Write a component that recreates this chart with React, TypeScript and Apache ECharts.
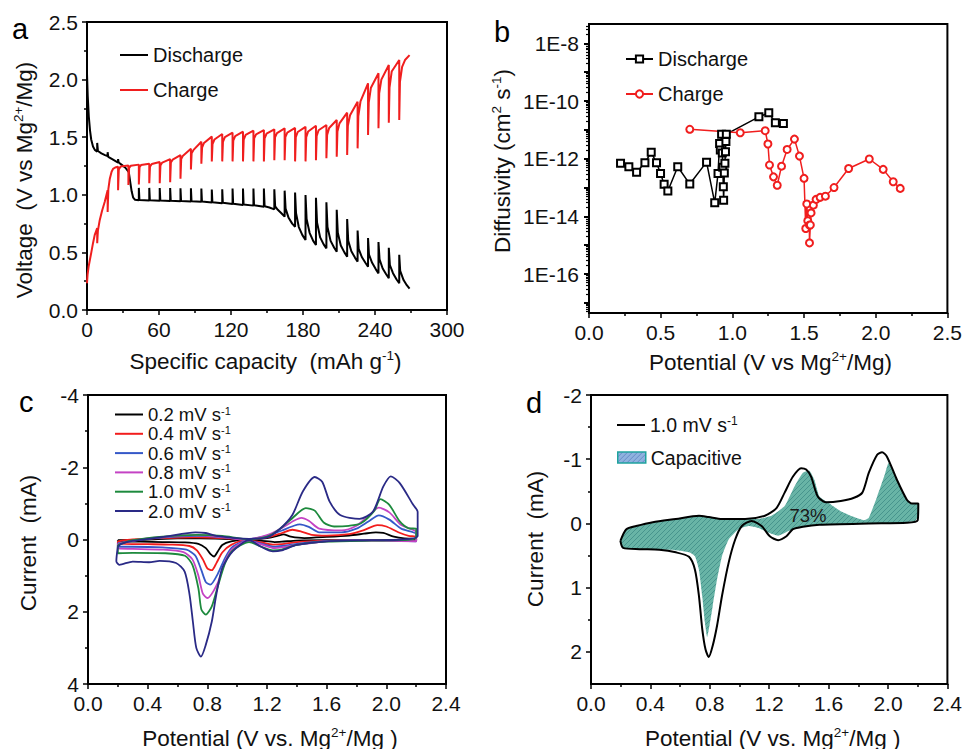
import React, { useEffect, useRef } from 'react';
import * as echarts from 'echarts';

const FONT = "'Liberation Sans', Arial, Helvetica, sans-serif";
const INK = '#111111';

// ---------- Panel a: GITT profiles [specific capacity (mAh g-1), voltage (V)] ----------
const dischargeProfile: number[][] = [
  [0, 2.05], [0.6, 1.86], [1.5, 1.68], [2.5, 1.56], [3.5, 1.48], [5, 1.42], [6.5, 1.39], [8.5, 1.375],
  [8.5, 1.45], [9.1, 1.38], [12, 1.36], [15, 1.345], [17.2, 1.335],
  [17.2, 1.37], [17.7, 1.33], [21, 1.31], [25.9, 1.28],
  [25.9, 1.31], [26.4, 1.28], [29, 1.26], [32, 1.235], [34.5, 1.2],
  [34.5, 1.22], [35.2, 1.17], [36.2, 1.1], [37.2, 1.03], [38.5, 0.975], [40, 0.957], [43.2, 0.952],
  [43.2, 1.06], [43.7, 0.955], [51.9, 0.95],
  [51.9, 1.06], [52.4, 0.952], [60.6, 0.948],
  [60.6, 1.058], [61.1, 0.95], [69.3, 0.946],
  [69.3, 1.058], [69.8, 0.948], [77.9, 0.944],
  [77.9, 1.056], [78.4, 0.946], [86.6, 0.942],
  [86.6, 1.056], [87.1, 0.944], [95.3, 0.94],
  [95.3, 1.054], [95.8, 0.942], [104.0, 0.933],
  [104.0, 1.045], [104.5, 0.936], [112.7, 0.926],
  [112.7, 1.048], [113.2, 0.93], [121.3, 0.92],
  [121.3, 1.055], [121.8, 0.923], [130.0, 0.911],
  [130.0, 1.055], [130.5, 0.915], [138.7, 0.906],
  [138.7, 1.055], [139.2, 0.91], [147.4, 0.897],
  [147.4, 1.055], [148, 0.9], [152, 0.89], [156.1, 0.874],
  [156.1, 1.048], [156.8, 0.9], [159, 0.87], [162, 0.84], [164.7, 0.81],
  [164.7, 1.036], [165.5, 0.88], [168, 0.8], [171, 0.75], [173.4, 0.723],
  [173.4, 1.019], [174.2, 0.84], [176.5, 0.72], [179.5, 0.65], [182.1, 0.608],
  [182.1, 0.998], [183, 0.79], [185.5, 0.67], [188.5, 0.6], [190.8, 0.564],
  [190.8, 0.975], [191.7, 0.76], [194.3, 0.63], [197.2, 0.57], [199.5, 0.535],
  [199.5, 0.935], [200.4, 0.72], [203, 0.6], [206, 0.54], [208.1, 0.506],
  [208.1, 0.87], [209, 0.67], [211.5, 0.56], [214.5, 0.5], [216.8, 0.463],
  [216.8, 0.79], [217.7, 0.6], [220.3, 0.51], [223.3, 0.455], [225.5, 0.42],
  [225.5, 0.69], [226.4, 0.53], [229, 0.46], [232, 0.41], [234.2, 0.376],
  [234.2, 0.625], [235, 0.48], [237.6, 0.41], [240.6, 0.355], [242.9, 0.318],
  [242.9, 0.59], [243.8, 0.44], [246.4, 0.36], [249.3, 0.31], [251.5, 0.275],
  [251.5, 0.54], [252.4, 0.39], [255, 0.32], [258, 0.265], [260.2, 0.232],
  [260.2, 0.48], [261, 0.34], [263.8, 0.26], [266.5, 0.215], [268.8, 0.185],
];

const chargeProfile: number[][] = [
  [0, 0.232], [0.5, 0.31], [1.4, 0.38], [2.5, 0.44], [3.6, 0.5], [5, 0.58], [6.4, 0.65], [8.5, 0.71],
  [8.5, 0.58], [9.1, 0.69], [10.6, 0.78], [12.5, 0.86], [14.8, 0.94], [17.2, 1.04],
  [17.2, 0.85], [17.8, 1.05], [19, 1.14], [20.5, 1.2], [21.7, 1.225], [23.5, 1.237], [25.9, 1.244],
  [25.9, 1.04], [26.5, 1.22], [28, 1.245], [31, 1.25], [34.5, 1.255],
  [34.5, 1.085], [35.1, 1.235], [36.5, 1.252], [43.2, 1.262],
  [43.2, 1.09], [43.8, 1.24], [45, 1.258], [51.9, 1.27],
  [51.9, 1.1], [52.5, 1.245], [54, 1.267], [60.6, 1.285],
  [60.6, 1.1], [61.2, 1.255], [62.7, 1.28], [69.3, 1.31],
  [69.3, 1.11], [69.9, 1.28], [71.4, 1.305], [77.9, 1.345],
  [77.9, 1.14], [78.5, 1.31], [80, 1.34], [86.6, 1.4],
  [86.6, 1.22], [87.2, 1.36], [88.8, 1.39], [95.3, 1.46],
  [95.3, 1.27], [95.9, 1.41], [97.5, 1.45], [104.0, 1.505],
  [104.0, 1.29], [104.6, 1.44], [106.2, 1.48], [112.7, 1.528],
  [112.7, 1.29], [113.3, 1.46], [114.9, 1.5], [121.3, 1.539],
  [121.3, 1.29], [121.9, 1.47], [123.5, 1.51], [130.0, 1.548],
  [130.0, 1.29], [130.6, 1.48], [132.2, 1.52], [138.7, 1.557],
  [138.7, 1.29], [139.3, 1.49], [140.9, 1.525], [147.4, 1.562],
  [147.4, 1.29], [148, 1.49], [149.6, 1.53], [156.1, 1.568],
  [156.1, 1.3], [156.7, 1.5], [158.3, 1.535], [164.7, 1.577],
  [164.7, 1.3], [165.3, 1.5], [166.9, 1.54], [173.4, 1.58],
  [173.4, 1.29], [174, 1.5], [175.6, 1.545], [182.1, 1.59],
  [182.1, 1.29], [182.7, 1.5], [184.3, 1.55], [190.8, 1.6],
  [190.8, 1.3], [191.4, 1.51], [193, 1.56], [199.5, 1.606],
  [199.5, 1.317], [200.1, 1.52], [201.8, 1.58], [208.1, 1.649],
  [208.1, 1.331], [208.7, 1.55], [210.4, 1.62], [216.8, 1.713],
  [216.8, 1.345], [217.4, 1.6], [219.2, 1.69], [225.5, 1.808],
  [225.5, 1.403], [226.1, 1.68], [227.9, 1.81], [234.2, 1.968],
  [234.2, 1.519], [234.8, 1.8], [236.6, 1.93], [242.9, 2.055],
  [242.9, 1.577], [243.5, 1.88], [245.3, 2.0], [251.5, 2.127],
  [251.5, 1.626], [252.1, 1.93], [253.9, 2.07], [260.2, 2.17],
  [260.2, 1.649], [260.8, 1.98], [262.6, 2.11], [265, 2.17], [268.8, 2.213],
];

// ---------- Panel b: diffusivity, stored as log10(D / cm2 s-1) ----------
const dischargePotential = [0.22, 0.278, 0.332, 0.39, 0.434, 0.471, 0.499, 0.524, 0.55, 0.619, 0.703, 0.82, 0.877, 0.9, 0.911, 0.916, 0.925, 0.93, 0.933, 0.937, 0.939, 0.944, 0.948, 0.952, 0.955, 0.958, 1.185, 1.254, 1.3, 1.356];
const dischargeLogD = [-12.16, -12.28, -12.47, -12.14, -11.78, -12.14, -12.51, -12.89, -13.12, -12.28, -12.88, -12.12, -13.53, -12.51, -11.47, -11.7, -11.15, -11.8, -12.3, -12.97, -13.44, -12.5, -12.16, -11.76, -11.4, -11.15, -10.55, -10.41, -10.75, -10.78];
const chargePotential = [0.703, 1.055, 1.229, 1.248, 1.259, 1.287, 1.313, 1.343, 1.382, 1.433, 1.468, 1.5, 1.512, 1.519, 1.526, 1.537, 1.538, 1.544, 1.549, 1.565, 1.584, 1.612, 1.649, 1.709, 1.811, 1.955, 2.052, 2.122, 2.171];
const chargeLogD = [-10.98, -11.1, -11.03, -11.49, -12.22, -12.63, -12.92, -12.26, -11.68, -11.32, -11.91, -12.68, -14.42, -13.57, -14.15, -14.3, -14.92, -14.3, -13.88, -13.61, -13.41, -13.34, -13.3, -13.0, -12.34, -12.01, -12.37, -12.8, -13.03];
const diffusivityLabelExps = [-16, -14, -12, -10, -8];
const diffusivityDecades = [-17, -16, -15, -14, -13, -12, -11, -10, -9, -8];

// ---------- Panel c: CV at several scan rates [potential (V), current (mA)] ----------
const scanRates = ['0.2 mV s-1', '0.4 mV s-1', '0.6 mV s-1', '0.8 mV s-1', '1.0 mV s-1', '2.0 mV s-1'];
const scanColors = ['#000000', '#f21d1d', '#3558c8', '#c443c4', '#1d8a3d', '#2a2a86'];
const cv02: number[][] = [
  [0.2, 0.02], [0.4, 0.0], [0.6, -0.03], [0.75, -0.03], [0.9, -0.02], [1.05, 0.0], [1.2, -0.04], [1.27, -0.1], [1.31, -0.14], [1.36, -0.08], [1.45, -0.04], [1.6, -0.07], [1.75, -0.11], [1.85, -0.16], [1.93, -0.2], [1.98, -0.18], [2.05, -0.08], [2.12, -0.03], [2.2, -0.02],
  [2.2, 0.02], [2.0, 0.02], [1.8, 0.02], [1.6, 0.02], [1.4, 0.03], [1.3, 0.06], [1.25, 0.07], [1.15, 0.03], [1.05, 0.02], [0.96, 0.05], [0.9, 0.15], [0.87, 0.33], [0.845, 0.47], [0.82, 0.4], [0.79, 0.24], [0.74, 0.12], [0.65, 0.08], [0.5, 0.07], [0.35, 0.06], [0.2, 0.05], [0.2, 0.02],
];
const cv04: number[][] = [
  [0.2, 0.05], [0.3, 0.0], [0.5, -0.04], [0.72, -0.06], [0.9, -0.04], [1.06, 0.0], [1.2, -0.06], [1.3, -0.18], [1.37, -0.27], [1.43, -0.22], [1.5, -0.13], [1.6, -0.11], [1.75, -0.15], [1.85, -0.26], [1.94, -0.4], [2.0, -0.36], [2.08, -0.2], [2.15, -0.1], [2.2, -0.08],
  [2.2, 0.03], [2.0, 0.02], [1.8, 0.02], [1.6, 0.03], [1.4, 0.07], [1.3, 0.13], [1.24, 0.14], [1.15, 0.07], [1.06, 0.02], [0.96, 0.15], [0.9, 0.36], [0.86, 0.66], [0.83, 0.85], [0.8, 0.8], [0.77, 0.55], [0.73, 0.3], [0.68, 0.18], [0.55, 0.14], [0.4, 0.13], [0.2, 0.12], [0.2, 0.05],
];
const cv06: number[][] = [
  [0.2, 0.1], [0.4, -0.02], [0.6, -0.08], [0.73, -0.1], [0.9, -0.06], [1.05, 0.0], [1.2, -0.1], [1.3, -0.25], [1.38, -0.38], [1.42, -0.42], [1.48, -0.35], [1.55, -0.2], [1.7, -0.2], [1.8, -0.3], [1.88, -0.5], [1.95, -0.67], [2.02, -0.55], [2.1, -0.3], [2.2, -0.15],
  [2.2, 0.05], [2.0, 0.03], [1.8, 0.02], [1.6, 0.04], [1.4, 0.12], [1.3, 0.18], [1.25, 0.2], [1.15, 0.1], [1.07, 0.03], [0.97, 0.2], [0.92, 0.5], [0.87, 0.95], [0.82, 1.25], [0.79, 1.18], [0.76, 0.85], [0.72, 0.45], [0.66, 0.28], [0.5, 0.22], [0.3, 0.2], [0.2, 0.2], [0.2, 0.1],
];
const cv08: number[][] = [
  [0.2, 0.12], [0.4, -0.03], [0.6, -0.1], [0.73, -0.12], [0.9, -0.07], [1.05, 0.0], [1.2, -0.12], [1.3, -0.32], [1.38, -0.52], [1.43, -0.6], [1.48, -0.52], [1.55, -0.3], [1.7, -0.25], [1.8, -0.38], [1.88, -0.65], [1.95, -0.88], [2.02, -0.75], [2.1, -0.4], [2.2, -0.2],
  [2.2, 0.05], [2.0, 0.04], [1.8, 0.03], [1.6, 0.05], [1.4, 0.15], [1.3, 0.22], [1.25, 0.24], [1.15, 0.12], [1.07, 0.04], [0.97, 0.25], [0.92, 0.6], [0.87, 1.2], [0.8, 1.62], [0.77, 1.5], [0.74, 1.0], [0.7, 0.55], [0.64, 0.35], [0.5, 0.28], [0.3, 0.26], [0.2, 0.25], [0.2, 0.12],
];
const cv10: number[][] = [
  [0.2, 0.15], [0.3, 0.02], [0.5, -0.08], [0.73, -0.13], [0.9, -0.1], [1.08, -0.01], [1.2, -0.08], [1.28, -0.27], [1.37, -0.59], [1.46, -0.87], [1.52, -0.8], [1.58, -0.47], [1.65, -0.36], [1.75, -0.38], [1.83, -0.45], [1.92, -0.8], [1.96, -1.12], [2.02, -0.96], [2.09, -0.5], [2.15, -0.31], [2.2, -0.3],
  [2.2, -0.05], [2.1, 0.02], [1.9, 0.03], [1.6, 0.06], [1.4, 0.15], [1.3, 0.28], [1.24, 0.3], [1.15, 0.18], [1.08, 0.07], [0.97, 0.3], [0.92, 0.65], [0.87, 1.3], [0.83, 1.85], [0.79, 2.08], [0.76, 1.94], [0.74, 1.35], [0.7, 0.7], [0.65, 0.45], [0.52, 0.38], [0.3, 0.37], [0.2, 0.38], [0.2, 0.15],
];
const cv20: number[][] = [
  [0.2, 0.2], [0.22, 0.13], [0.3, 0.04], [0.52, -0.08], [0.72, -0.2], [0.79, -0.18], [0.86, -0.1], [1.08, -0.02], [1.2, -0.06], [1.28, -0.27], [1.37, -0.68], [1.44, -1.33], [1.52, -1.73], [1.57, -1.6], [1.62, -1.05], [1.69, -0.68], [1.82, -0.57], [1.91, -0.77], [1.98, -1.47], [2.03, -1.75], [2.09, -1.56], [2.18, -0.96], [2.21, -0.77],
  [2.21, -0.1], [2.1, 0.0], [1.9, 0.02], [1.6, 0.05], [1.4, 0.15], [1.3, 0.3], [1.24, 0.33], [1.16, 0.2], [1.08, 0.02], [0.97, 0.33], [0.9, 0.79], [0.86, 1.53], [0.83, 2.27], [0.79, 2.91], [0.757, 3.24], [0.726, 3.0], [0.703, 2.27], [0.681, 1.53], [0.648, 0.89], [0.59, 0.65], [0.48, 0.59], [0.41, 0.63], [0.3, 0.61], [0.21, 0.7], [0.19, 0.6], [0.2, 0.2],
];
const cvSets = [cv02, cv04, cv06, cv08, cv10, cv20];

// ---------- Panel d: 1.0 mV s-1 CV and capacitive contribution ----------
const cvD10: number[][] = [
  [0.198, 0.27], [0.238, 0.09], [0.304, 0.04], [0.416, -0.02], [0.571, -0.07], [0.727, -0.12], [0.793, -0.1], [0.882, -0.07], [1.038, -0.07], [1.171, -0.12], [1.249, -0.24], [1.304, -0.48], [1.36, -0.73], [1.415, -0.86], [1.449, -0.84], [1.482, -0.73], [1.527, -0.42], [1.582, -0.33], [1.682, -0.35], [1.771, -0.4], [1.827, -0.48], [1.871, -0.79], [1.927, -1.07], [1.96, -1.11], [1.993, -1.04], [2.06, -0.68], [2.127, -0.37], [2.16, -0.31], [2.204, -0.31], [2.2, -0.05],
  [2.127, -0.01], [1.871, 0.0], [1.538, 0.02], [1.427, 0.05], [1.36, 0.09], [1.316, 0.2], [1.26, 0.26], [1.204, 0.2], [1.149, 0.04], [1.082, -0.04], [1.016, 0.04], [0.971, 0.25], [0.927, 0.61], [0.882, 1.13], [0.849, 1.59], [0.82, 1.9], [0.793, 2.08], [0.771, 1.96], [0.749, 1.64], [0.727, 1.13], [0.7, 0.72], [0.66, 0.52], [0.571, 0.45], [0.46, 0.41], [0.327, 0.4], [0.216, 0.38], [0.198, 0.27],
];
const capacitiveUpper: number[][] = [
  [0.198, 0.27], [0.238, 0.09], [0.304, 0.04], [0.416, -0.02], [0.571, -0.07], [0.727, -0.12], [0.793, -0.1], [0.882, -0.07], [1.038, -0.07], [1.127, -0.07], [1.215, -0.12], [1.304, -0.27], [1.371, -0.58], [1.427, -0.79], [1.471, -0.82], [1.504, -0.68], [1.538, -0.42], [1.593, -0.33], [1.682, -0.19], [1.771, -0.1], [1.838, -0.05], [1.871, -0.09], [1.927, -0.42], [1.982, -0.79], [2.004, -0.94], [2.06, -0.68], [2.127, -0.37], [2.16, -0.31], [2.204, -0.31], [2.204, -0.14], [2.182, -0.04],
];
const capacitiveLower: number[][] = [
  [1.993, 0.0], [1.771, 0.01], [1.549, 0.02], [1.416, 0.05], [1.327, 0.12], [1.26, 0.19], [1.193, 0.14], [1.127, 0.07], [1.06, 0.04], [0.993, 0.09], [0.927, 0.25], [0.882, 0.51], [0.849, 0.87], [0.82, 1.28], [0.798, 1.59], [0.782, 1.77], [0.767, 1.54], [0.749, 1.13], [0.727, 0.72], [0.7, 0.51], [0.66, 0.45], [0.549, 0.41], [0.438, 0.41], [0.327, 0.4], [0.216, 0.38], [0.198, 0.3],
];
const capacitiveShare = '73%';

function svgPattern(bg: string, line: string) {
  const s = `<svg xmlns='http://www.w3.org/2000/svg' width='5' height='5'><rect width='5' height='5' fill='${bg}'/><path d='M0 5L5 0M-1 1L1 -1M4 6L6 4' stroke='${line}' stroke-width='0.8'/></svg>`;
  return { image: 'data:image/svg+xml;charset=utf-8,' + encodeURIComponent(s), repeat: 'repeat', imageWidth: 5, imageHeight: 5 } as any;
}

const labelStyle = { fontSize: 21, fontFamily: FONT, color: INK };
const lineBlack = { color: '#000', width: 2 };

function xAxisDef(gridIndex: number, min: number, max: number, interval: number, digits: number) {
  return {
    type: 'value', gridIndex, min, max, interval, position: 'bottom',
    axisLine: { show: true, onZero: false, lineStyle: lineBlack },
    axisTick: { show: true, length: 5, lineStyle: { color: '#000', width: 1.5 } },
    minorTick: { show: true, splitNumber: 2, length: 3, lineStyle: { color: '#000', width: 1.5 } },
    splitLine: { show: false }, minorSplitLine: { show: false },
    axisLabel: { ...labelStyle, margin: 9, formatter: (v: number) => v.toFixed(digits) },
  };
}

function richTitle(text: string, x: number, y: number, vertical: boolean) {
  return {
    type: 'text', x, y, rotation: vertical ? Math.PI / 2 : 0, silent: true,
    style: {
      text, align: 'center', verticalAlign: 'middle', fontSize: 22.5, fontFamily: FONT, fill: INK,
      rich: {
        n: { fontSize: 22.5, fontFamily: FONT, fill: INK, lineHeight: 26 },
        s: { fontSize: 13.5, fontFamily: FONT, fill: INK, lineHeight: 15, verticalAlign: 'top' },
      },
    },
  };
}

function panelLetter(t: string, x: number, y: number) {
  return { type: 'text', x, y, silent: true, style: { text: t, fontSize: 29, fontFamily: FONT, fill: '#000', align: 'left', verticalAlign: 'middle' } };
}

export default function App() {
  const ref = useRef<HTMLDivElement>(null);
  useEffect(() => {
    document.body.style.margin = '0';
    if (!ref.current) return;
    const chart = echarts.init(ref.current, undefined, { renderer: 'svg' });

    const minorExps: number[] = [];
    for (let n = -18; n <= -8; n++) {
      for (let k = 2; k <= 9; k++) {
        const v = n + Math.log10(k);
        if (v > -17.35 && v < -7.33) minorExps.push(v);
      }
    }

    const hatchFill = svgPattern('#68b4a6', '#3f8c86');
    const hatchLegend = svgPattern('#8fb2de', '#5a82c2');

    const supRich = (size: number, lh: number) => ({
      n: { fontSize: size, fontFamily: FONT, color: INK, lineHeight: lh },
      s: { fontSize: Math.round(size * 0.6), fontFamily: FONT, color: INK, lineHeight: Math.round(size * 0.65), verticalAlign: 'top' },
    });

    const option: any = {
      animation: false,
      backgroundColor: '#ffffff',
      grid: [
        { left: 87, top: 22, width: 360, height: 288, show: true, borderColor: '#000', borderWidth: 2, backgroundColor: 'transparent' },
        { left: 589, top: 24, width: 359, height: 289, show: true, borderColor: '#000', borderWidth: 2, backgroundColor: 'transparent' },
        { left: 88, top: 395, width: 358, height: 289, show: true, borderColor: '#000', borderWidth: 2, backgroundColor: 'transparent' },
        { left: 591, top: 395, width: 360, height: 289, show: true, borderColor: '#000', borderWidth: 2, backgroundColor: 'transparent' },
      ],
      xAxis: [
        xAxisDef(0, 0, 300, 60, 0),
        xAxisDef(1, 0, 2.5, 0.5, 1),
        xAxisDef(2, 0, 2.4, 0.4, 1),
        xAxisDef(3, 0, 2.4, 0.4, 1),
      ],
      yAxis: [
        {
          type: 'value', gridIndex: 0, min: 0, max: 2.5, interval: 0.5, position: 'left',
          axisLine: { show: true, onZero: false, lineStyle: lineBlack },
          axisTick: { show: true, length: 5, lineStyle: { color: '#000', width: 1.5 } },
          minorTick: { show: true, splitNumber: 2, length: 3, lineStyle: { color: '#000', width: 1.5 } },
          splitLine: { show: false }, minorSplitLine: { show: false },
          axisLabel: { ...labelStyle, margin: 9, formatter: (v: number) => v.toFixed(1) },
        },
        {
          type: 'value', gridIndex: 1, min: -17.35, max: -7.33, position: 'left',
          axisLine: { show: true, onZero: false, lineStyle: lineBlack },
          axisTick: { show: true, length: 5, customValues: diffusivityDecades, lineStyle: { color: '#000', width: 2 } },
          splitLine: { show: false },
          axisLabel: { ...labelStyle, margin: 10, customValues: diffusivityLabelExps, formatter: (v: number) => '1E' + Math.round(v) },
        },
        {
          type: 'value', gridIndex: 1, min: -17.35, max: -7.33, position: 'left',
          axisLine: { show: false },
          axisTick: { show: true, length: 3, customValues: minorExps, lineStyle: { color: '#000', width: 1.2 } },
          splitLine: { show: false },
          axisLabel: { show: false },
        },
        {
          type: 'value', gridIndex: 2, min: -4, max: 4, interval: 2, inverse: true, position: 'left',
          axisLine: { show: true, onZero: false, lineStyle: lineBlack },
          axisTick: { show: true, length: 5, lineStyle: { color: '#000', width: 1.5 } },
          minorTick: { show: true, splitNumber: 2, length: 3, lineStyle: { color: '#000', width: 1.5 } },
          splitLine: { show: false }, minorSplitLine: { show: false },
          axisLabel: { ...labelStyle, margin: 9, formatter: (v: number) => String(v) },
        },
        {
          type: 'value', gridIndex: 3, min: -2, max: 2.5, inverse: true, position: 'left',
          axisLine: { show: true, onZero: false, lineStyle: lineBlack },
          axisTick: { show: true, length: 5, customValues: [-2, -1, 0, 1, 2], lineStyle: { color: '#000', width: 1.5 } },
          splitLine: { show: false },
          axisLabel: { ...labelStyle, margin: 9, customValues: [-2, -1, 0, 1, 2], formatter: (v: number) => String(v) },
        },
        {
          type: 'value', gridIndex: 3, min: -2, max: 2.5, inverse: true, position: 'left',
          axisLine: { show: false },
          axisTick: { show: true, length: 3, customValues: [-1.5, -0.5, 0.5, 1.5], lineStyle: { color: '#000', width: 1.5 } },
          splitLine: { show: false },
          axisLabel: { show: false },
        },
      ],
      legend: [
        {
          left: 120, top: 45, padding: 0, orient: 'vertical', itemWidth: 28, itemHeight: 2, itemGap: 15, selectedMode: false,
          data: [{ name: 'a-Discharge', icon: 'rect' }, { name: 'a-Charge', icon: 'rect' }],
          formatter: (n: string) => n.slice(2),
          textStyle: { fontSize: 20, fontFamily: FONT, color: INK, lineHeight: 20 },
        },
        {
          left: 625, top: 49, padding: 0, orient: 'vertical', itemWidth: 27, itemHeight: 9, itemGap: 15, selectedMode: false,
          data: ['b-Discharge', 'b-Charge'],
          formatter: (n: string) => n.slice(2),
          textStyle: { fontSize: 20, fontFamily: FONT, color: INK, lineHeight: 20 },
        },
        {
          left: 115, top: 405, padding: 0, orient: 'vertical', itemWidth: 28, itemHeight: 2, itemGap: 0.3, selectedMode: false,
          data: scanRates.map((n) => ({ name: n, icon: 'rect' })),
          formatter: (n: string) => `{n|${n.replace(' s-1', ' s')}}{s|-1}`,
          textStyle: { rich: supRich(18.5, 19) },
        },
        {
          left: 617, top: 415, padding: 0, orient: 'vertical', itemWidth: 28, itemHeight: 2, selectedMode: false,
          data: [{ name: 'd-1.0 mV s-1', icon: 'rect' }],
          formatter: () => '{n|1.0 mV s}{s|-1}',
          textStyle: { rich: supRich(19.5, 20) },
        },
        {
          left: 617, top: 447.5, padding: 0, orient: 'vertical', itemWidth: 28, itemHeight: 11, selectedMode: false,
          data: [{ name: 'Capacitive', icon: 'rect', itemStyle: { color: hatchLegend, borderColor: '#1fa39e', borderWidth: 1.5 } }],
          formatter: () => '{n|Capacitive}',
          textStyle: { rich: supRich(19.5, 20) },
        },
      ],
      series: [
        { type: 'line', name: 'a-Discharge', xAxisIndex: 0, yAxisIndex: 0, data: dischargeProfile, symbol: 'none', lineStyle: { color: '#000', width: 2 }, itemStyle: { color: '#000' }, z: 3 },
        { type: 'line', name: 'a-Charge', xAxisIndex: 0, yAxisIndex: 0, data: chargeProfile, symbol: 'none', lineStyle: { color: '#f01e1e', width: 2 }, itemStyle: { color: '#f01e1e' }, z: 3 },
        {
          type: 'line', name: 'b-Discharge', xAxisIndex: 1, yAxisIndex: 1,
          data: dischargePotential.map((x, i) => [x, dischargeLogD[i]]),
          symbol: 'emptyRect', symbolSize: 7, lineStyle: { color: '#000', width: 1.5 }, itemStyle: { color: '#000', borderWidth: 1.2 }, z: 3,
        },
        {
          type: 'line', name: 'b-Charge', xAxisIndex: 1, yAxisIndex: 1,
          data: chargePotential.map((x, i) => [x, chargeLogD[i]]),
          symbol: 'emptyCircle', symbolSize: 7, lineStyle: { color: '#f01e1e', width: 1.5 }, itemStyle: { color: '#f01e1e', borderWidth: 1.2 }, z: 3,
        },
        ...cvSets.map((d, i) => ({
          type: 'line', name: scanRates[i], xAxisIndex: 2, yAxisIndex: 3, data: d, symbol: 'none', smooth: 0.25,
          lineStyle: { color: scanColors[i], width: 1.8 }, itemStyle: { color: scanColors[i] }, z: 3,
        })),
        {
          type: 'custom', name: 'Capacitive', xAxisIndex: 3, yAxisIndex: 4, coordinateSystem: 'cartesian2d',
          data: [capacitiveUpper[0]],
          itemStyle: { color: hatchLegend },
          renderItem: (_p: any, api: any) => {
            const pts = capacitiveUpper.concat(capacitiveLower).map((p) => api.coord(p));
            return { type: 'polygon', shape: { points: pts, smooth: 0.15 }, style: { fill: hatchFill, stroke: 'none' } };
          },
          z: 2,
        },
        {
          type: 'line', name: 'd-1.0 mV s-1', xAxisIndex: 3, yAxisIndex: 4, data: cvD10, symbol: 'none', smooth: 0.25,
          lineStyle: { color: '#000', width: 2 }, itemStyle: { color: '#000' }, z: 3,
        },
      ],
      graphic: [
        panelLetter('a', 12, 28.5),
        panelLetter('b', 494, 32),
        panelLetter('c', 19, 402),
        panelLetter('d', 526, 403),
        richTitle('{n|Specific capacity  (mAh g}{s|-1}{n|)}', 265.5, 361.7, false),
        richTitle('{n|Voltage  (V vs Mg}{s|2+}{n|/Mg)}', 24, 180, true),
        richTitle('{n|Potential (V vs Mg}{s|2+}{n|/Mg)}', 770.5, 362, false),
        richTitle('{n|Diffusivity (cm}{s|2}{n| s}{s|-1}{n|)}', 502, 161, true),
        richTitle('{n|Potential (V vs. Mg}{s|2+}{n|/Mg )}', 270, 738, false),
        richTitle('{n|Current  (mA)}', 28, 543, true),
        richTitle('{n|Potential (V vs. Mg}{s|2+}{n|/Mg )}', 772.7, 738, false),
        richTitle('{n|Current  (mA)}', 535, 539, true),
        {
          type: 'text', x: 808, y: 515, silent: true, z: 10,
          style: { text: capacitiveShare, fontSize: 18.5, fontFamily: FONT, fill: '#1a1a1a', align: 'center', verticalAlign: 'middle' },
        },
      ],
    };

    chart.setOption(option);
    return () => chart.dispose();
  }, []);

  return <div ref={ref} style={{ width: 965, height: 749, background: '#fff' }} />;
}
